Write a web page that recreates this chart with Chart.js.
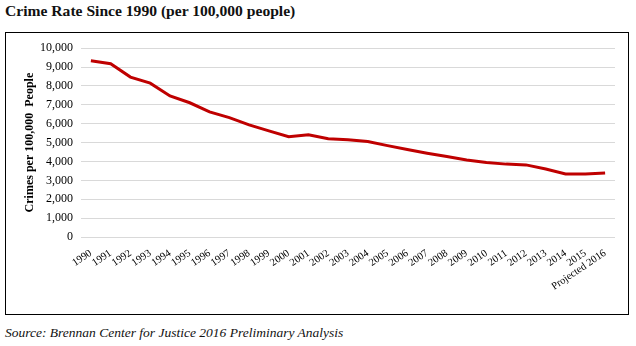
<!DOCTYPE html>
<html>
<head>
<meta charset="utf-8">
<script src="https://cdn.jsdelivr.net/npm/chart.js@4.4.1/dist/chart.umd.min.js"></script>
<style>
  html, body { margin: 0; padding: 0; background: #fff; }
  body { width: 636px; height: 346px; position: relative; overflow: hidden; }
  #title {
    position: absolute; left: 5px; top: 2px;
    font-family: "Liberation Serif", "DejaVu Serif", serif;
    font-weight: bold; font-size: 15.6px; color: #111; white-space: nowrap;
  }
  #frame {
    position: absolute; left: 5px; top: 32px; width: 622px; height: 281px;
    border: 1px solid #000; background: #fff;
  }
  #source {
    position: absolute; left: 5px; top: 325px;
    font-family: "Liberation Serif", "DejaVu Serif", serif;
    font-style: italic; font-size: 13.5px; color: #111; white-space: nowrap;
  }
</style>
</head>
<body>
<div id="title">Crime Rate Since 1990 (per 100,000 people)</div>
<div id="frame"><canvas id="chart" width="622" height="281"></canvas></div>
<div id="source">Source: Brennan Center for Justice 2016 Preliminary Analysis</div>
<script>
// Year labels along the bottom axis
const years = [
  "1990", "1991", "1992", "1993", "1994", "1995", "1996", "1997", "1998",
  "1999", "2000", "2001", "2002", "2003", "2004", "2005", "2006", "2007",
  "2008", "2009", "2010", "2011", "2012", "2013", "2014", "2015",
  "Projected 2016"
];

// Crimes per 100,000 people for each year
const crimeRate = [
  9340, 9180, 8470, 8150, 7470, 7110, 6630, 6320, 5940,
  5620, 5310, 5410, 5200, 5150, 5060, 4840, 4630, 4440,
  4260, 4080, 3950, 3860, 3820, 3600, 3340, 3340,
  3390
];

// Value axis range
const yMin = 0;
const yMax = 10000;
const yStep = 1000;

const serif = "'Liberation Serif', 'DejaVu Serif', serif";

new Chart(document.getElementById('chart'), {
  type: 'line',
  data: {
    labels: years,
    datasets: [{
      label: 'Crime rate',
      data: crimeRate,
      borderColor: '#bf0000',
      backgroundColor: '#bf0000',
      borderWidth: 3,
      pointRadius: 0,
      tension: 0,
      fill: false
    }]
  },
  options: {
    responsive: false,
    animation: false,
    layout: { padding: { top: 13, right: 13, bottom: 0, left: 0 } },
    plugins: {
      legend: { display: false },
      tooltip: { enabled: false }
    },
    scales: {
      x: {
        offset: true,
        grid: { display: false, drawTicks: false },
        border: { display: false },
        ticks: {
          minRotation: 34,
          maxRotation: 34,
          autoSkip: false,
          padding: 10,
          color: '#000',
          font: { family: serif, size: 10.5 }
        },
        afterFit(scale) { scale.height = 77; }
      },
      y: {
        min: yMin,
        max: yMax,
        grid: { color: '#d9d9d9', lineWidth: 1, drawTicks: false },
        border: { display: false },
        ticks: {
          stepSize: yStep,
          padding: 8,
          color: '#000',
          font: { family: serif, size: 12 },
          callback: v => v.toLocaleString('en-US')
        },
        title: {
          display: true,
          text: 'Crimes per 100,000  People',
          color: '#000',
          font: { family: serif, size: 12, weight: 'bold' },
          padding: { top: 17, bottom: 0 }
        },
        afterFit(scale) { scale.width = 75; }
      }
    }
  }
});
</script>
</body>
</html>
